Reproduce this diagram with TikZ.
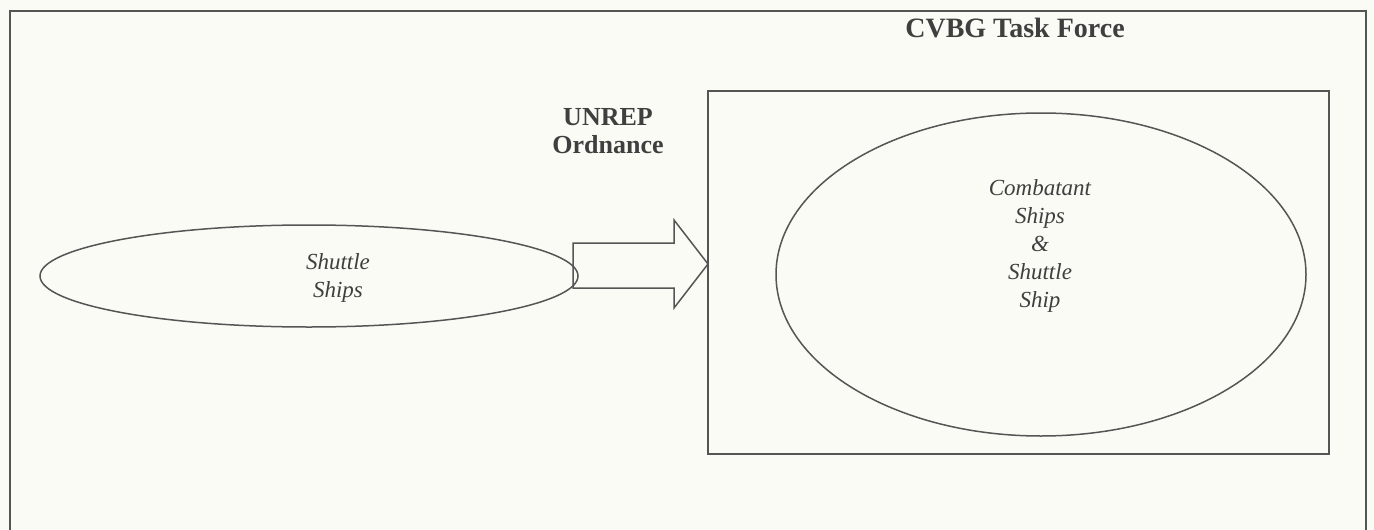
\documentclass[tikz,border=0pt]{standalone}
\usepackage{fontspec}
\setmainfont{Liberation Serif}
\usetikzlibrary{shapes.geometric}
\definecolor{bg}{HTML}{FBFBF5}
\definecolor{ln}{HTML}{555555}
\definecolor{tx}{HTML}{3F3F3F}
\tikzset{
  frame/.style={draw=ln, line width=2pt},
  oval/.style={ellipse, draw=ln, line width=1.5pt, inner sep=0pt},
  lbl/.style={text=tx, font=\fontsize{26}{28}\selectfont\bfseries, align=center, inner sep=0pt},
  itl/.style={text=tx, font=\fontsize{23}{28}\selectfont\itshape, align=center, inner sep=0pt},
}
\begin{document}
\begin{tikzpicture}[x=1pt,y=-1pt]
\fill[bg] (0,0) rectangle (1374,530);
\useasboundingbox (0,0) rectangle (1374,530);
\draw[frame] (10,545) -- (10,11) -- (1366,11) -- (1366,545);
\node[frame, draw, minimum width=621pt, minimum height=363pt, inner sep=0pt] (tf) at (1018.5,272.5) {};
\node[lbl, font=\fontsize{28}{30}\selectfont\bfseries] (tft) at (1015,28) {CVBG Task Force};
\node[oval, minimum width=538pt, minimum height=102pt] (sh) at (309,276) {};
\node[itl] (sht) at (338,278) {Shuttle\\Ships};
\node[oval, minimum width=530pt, minimum height=323pt] (cb) at (1041,274.5) {};
\node[itl] (cbt) at (1040,246) {Combatant\\Ships\\\&\\Shuttle\\Ship};
\node[lbl] (un) at (608,131) {UNREP\\Ordnance};
\draw[ln, line width=1.5pt, line join=miter]
  (573,243) -- (674,243) -- (674,220) -- (708,264) -- (674,308) -- (674,288) -- (573,288) -- cycle;
\end{tikzpicture}
\end{document}
